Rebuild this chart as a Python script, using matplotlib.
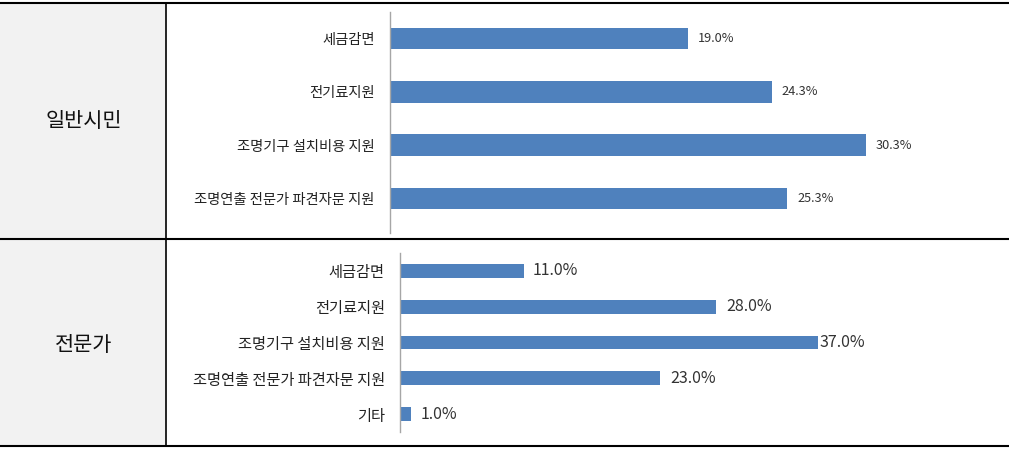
import matplotlib.pyplot as plt
from matplotlib.lines import Line2D
from matplotlib.patches import Rectangle

plt.rcParams['font.family'] = ['Noto Sans CJK KR', 'DejaVu Sans']

groups = ["일반시민", "전문가"]

citizen_labels = ["세금감면", "전기료지원", "조명기구 설치비용 지원", "조명연출 전문가 파견자문 지원"]
citizen_values = [19.0, 24.3, 30.3, 25.3]

expert_labels = ["세금감면", "전기료지원", "조명기구 설치비용 지원", "조명연출 전문가 파견자문 지원", "기타"]
expert_values = [11.0, 28.0, 37.0, 23.0, 1.0]

W, H = 1009, 451
fig = plt.figure(figsize=(W / 100, H / 100), dpi=100)
bar_color = "#4f81bd"


def px_rect(left, top, right, bottom):
    # pixel box -> figure fraction [l, b, w, h]
    return [left / W, 1 - bottom / H, (right - left) / W, (bottom - top) / H]


# table: grey label column + lines
fig.add_artist(Rectangle((0, 1 - 446 / H), 166 / W, (446 - 3) / H,
                         transform=fig.transFigure, facecolor="#f2f2f2", edgecolor="none"))
for y in [3, 239, 446]:
    fig.add_artist(Line2D([0, 1], [1 - y / H, 1 - y / H], transform=fig.transFigure,
                          color="black", lw=1.5))
fig.add_artist(Line2D([166 / W, 166 / W], [1 - 3 / H, 1 - 446 / H], transform=fig.transFigure,
                      color="black", lw=1.2))

fig.text(84 / W, 1 - 121 / H, groups[0], ha="center", va="center", fontsize=15, color="#111111")
fig.text(84 / W, 1 - 345 / H, groups[1], ha="center", va="center", fontsize=15, color="#111111")


def draw_chart(rect, labels, values, px_per_unit, height, ylim, tick_fs, val_fs, offsets):
    ax = fig.add_axes(rect)
    ax.patch.set_alpha(0)
    pos = list(range(len(labels)))
    ax.barh(pos, values, height=height, color=bar_color)
    width_px = rect[2] * W
    ax.set_xlim(0, width_px / px_per_unit)
    ax.set_ylim(*ylim)
    ax.set_yticks(pos)
    ax.set_yticklabels(labels, fontsize=tick_fs, color="#222222")
    ax.tick_params(axis="y", length=0, pad=11)
    ax.set_xticks([])
    for s in ["top", "right", "bottom"]:
        ax.spines[s].set_visible(False)
    ax.spines["left"].set_color("#a6a6a6")
    ax.spines["left"].set_linewidth(1.0)
    for p, v, off in zip(pos, values, offsets):
        ax.annotate(f"{v:.1f}%", (v, p), xytext=(off, 0), textcoords="offset pixels",
                    ha="left", va="center", fontsize=val_fs, color="#333333")
    return ax


draw_chart(px_rect(390, 12, 1000, 233), citizen_labels, citizen_values, 15.7, 0.4,
           (3.65, -0.5), 10.3, 9.2, [10, 10, 10, 10])
draw_chart(px_rect(400, 253, 1000, 432), expert_labels, expert_values, 11.3, 0.39,
           (4.5, -0.5), 11, 11.5, [8, 10, 1, 10, 9])

fig.savefig("out.png", dpi=100)
